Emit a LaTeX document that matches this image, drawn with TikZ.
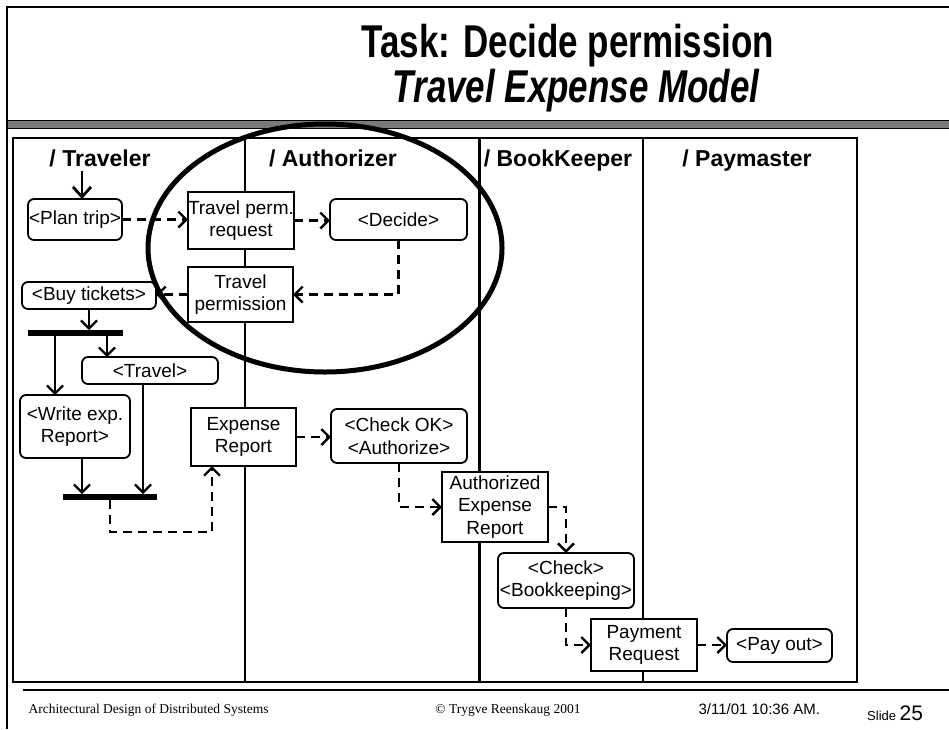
\documentclass[tikz,border=0pt]{standalone}
\usepackage{fontspec}
\setmainfont{Liberation Sans}
\newfontfamily\serifface{Liberation Serif}
\newfontfamily\titleface[FakeStretch=0.76]{Liberation Sans}
\usetikzlibrary{arrows.meta}

\tikzset{
  base/.style={inner sep=0pt, outer sep=0pt, anchor=north west, align=center,
               font=\fontsize{19}{22.5}\selectfont, fill=white, draw, line width=1.8pt},
  activity/.style={base, rounded corners=6pt},
  objbox/.style={base},
  syncbar/.style={draw=none, fill=black, inner sep=0pt, outer sep=0pt, anchor=north west},
  lanehead/.style={anchor=base, font=\fontsize{23}{23}\selectfont\bfseries},
  tip/.style={-{Straight Barb[length=8pt,width=16pt]}},
  flow/.style={tip, line width=2.2pt},
  objflow/.style={tip, line width=2.4pt, dash pattern=on 9pt off 6pt},
  titletext/.style={anchor=base, font=\titleface\fontsize{46}{46}\selectfont\bfseries},
}

\begin{document}
\begin{tikzpicture}[x=1pt, y=-1pt]
\useasboundingbox (0,0) rectangle (949,729);

% slide frame and title band
\draw[line width=2pt] (7,729) -- (7,7) -- (949,7);
\fill[black!52] (8,120) rectangle (949,128);
\draw[line width=1pt] (8,120) -- (949,120);
\draw[line width=1pt] (8,128) -- (949,128);

\node[titletext] (title1) at (568,57) {Task: Decide permission};
\node[titletext, font=\titleface\fontsize{46}{46}\selectfont\bfseries\itshape] (title2) at (576,102) {Travel Expense Model};

% swimlanes
\draw[line width=2.2pt] (13,138) rectangle (857,682);
\draw[line width=1.5pt] (245,138) -- (245,682);
\draw[line width=3pt] (479,138) -- (479,682);
\draw[line width=2pt] (643,138) -- (643,682);

\node[lanehead] (h1) at (100,166) {/ Traveler};
\node[lanehead] (h2) at (333,166) {/ Authorizer};
\node[lanehead] (h3) at (558,166) {/ BookKeeper};
\node[lanehead] (h4) at (747,166) {/ Paymaster};

% activities and objects
\node[activity, minimum width=94pt, minimum height=41pt] (plan) at (28,199) {<Plan trip>};
\node[objbox, minimum width=105pt, minimum height=57pt] (tpr) at (188,192) {Travel perm.\\request};
\node[activity, minimum width=137pt, minimum height=41pt] (decide) at (330,199) {<Decide>};
\node[objbox, minimum width=105pt, minimum height=55pt] (tperm) at (188,267) {Travel\\permission};
\node[activity, minimum width=134pt, minimum height=27pt] (buy) at (22,282) {<Buy tickets>};
\node[syncbar, minimum width=95pt, minimum height=6pt] (fork) at (28,330) {};
\node[activity, minimum width=136pt, minimum height=27pt] (travel) at (82,357) {<Travel>};
\node[activity, minimum width=110pt, minimum height=63pt] (write) at (20,395) {<Write exp.\\Report>};
\node[syncbar, minimum width=94pt, minimum height=6pt] (join) at (63,494) {};
\node[objbox, minimum width=105pt, minimum height=58pt] (exprep) at (191,408) {Expense\\Report};
\node[activity, minimum width=136pt, minimum height=54pt] (checkok) at (331,409) {<Check OK>\\<Authorize>};
\node[objbox, minimum width=106pt, minimum height=70pt] (auth) at (442,472) {Authorized\\Expense\\Report};
\node[activity, minimum width=136pt, minimum height=55pt] (checkbk) at (498,553) {<Check>\\<Bookkeeping>};
\node[objbox, minimum width=106pt, minimum height=52pt] (payreq) at (591,619) {Payment\\Request};
\node[activity, minimum width=105pt, minimum height=33pt] (payout) at (727,629) {<Pay out>};

% helper points for off-centre connectors
\coordinate (start) at (82,171);
\path (write.north) ++(-20,0) coordinate (wIn);
\path (travel.north) ++(-43,0) coordinate (tIn);
\path (travel.south) ++(-7,0) coordinate (tOut);
\path (write.south) ++(7,0) coordinate (wOut);
\path (exprep.south) ++(-31.5,0) coordinate (eIn);

% control flow
\draw[flow, line width=2.8pt, -{Straight Barb[length=10pt,width=18pt]}] (start) -- (start |- plan.north);
\draw[flow] (buy.south) -- (buy.south |- fork.north);
\draw[flow] (wIn |- fork.south) -- (wIn);
\draw[flow] (tIn |- fork.south) -- (tIn);
\draw[flow] (tOut) -- (tOut |- join.north);
\draw[flow] (wOut) -- (wOut |- join.north);

% object flow
\draw[objflow] (plan.east) -- (plan.east -| tpr.west);
\draw[objflow] (tpr.east) -- (tpr.east -| decide.west);
\draw[objflow] (decide.south) |- (tperm.east);
\draw[objflow] (tperm.west) -- (tperm.west -| buy.east);
\draw[objflow] (join.south) -- ++(0,32) -| (eIn);
\draw[objflow] (exprep.east) -- (exprep.east -| checkok.west);
\draw[objflow] (checkok.south) |- (auth.west);
\draw[objflow] (auth.east) -| (checkbk.north);
\draw[objflow] (checkbk.south) |- (payreq.west);
\draw[objflow] (payreq.east) -- (payreq.east -| payout.west);

% highlight ring
\draw[line width=5pt] (325,248) ellipse [x radius=177, y radius=124];

% footer
\draw[line width=1.2pt] (23,690) -- (949,690);
\node[anchor=base west, font=\serifface\fontsize{13.5}{14}\selectfont] (f1) at (25,713) {Architectural Design of Distributed Systems};
\node[anchor=base, font=\serifface\fontsize{13.5}{14}\selectfont] (f2) at (508,713) {\textcopyright\ Trygve Reenskaug 2001};
\node[anchor=base west, font=\fontsize{15}{15}\selectfont] (f3) at (695,714) {3/11/01 10:36 AM.};
\node[anchor=base west, inner sep=0pt] (f4) at (867,720) {{\fontsize{13}{13}\selectfont Slide }{\fontsize{21}{21}\selectfont 25}};
\end{tikzpicture}
\end{document}
